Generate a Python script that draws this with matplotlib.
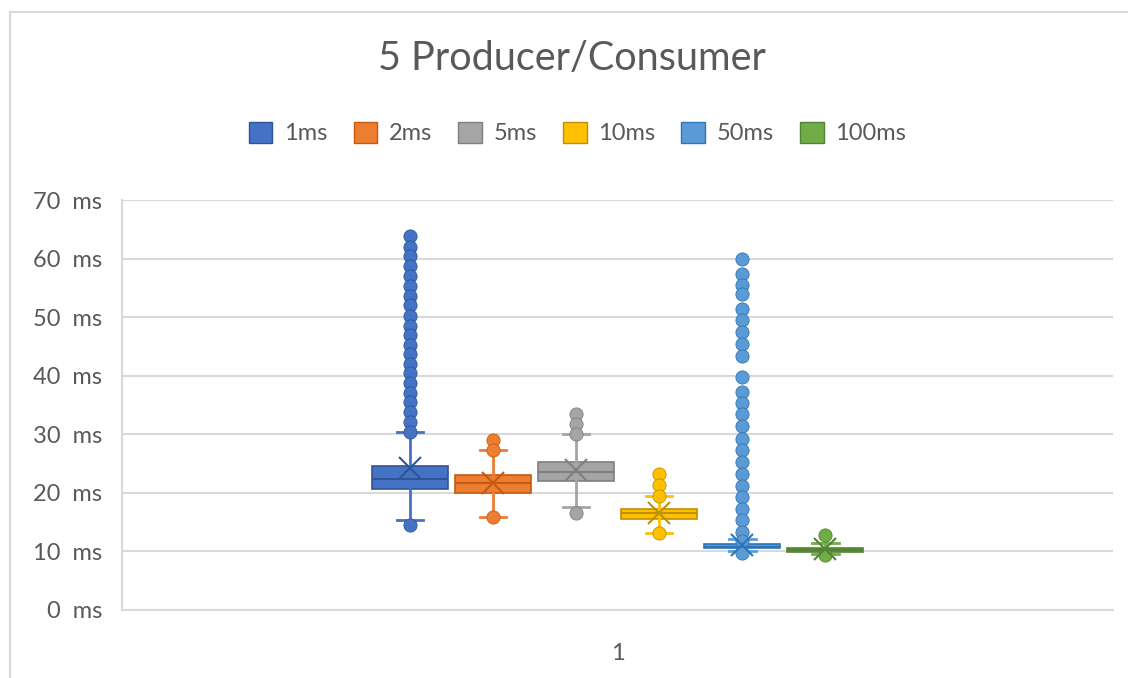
import numpy as np
import matplotlib as mpl
import matplotlib.pyplot as plt
from matplotlib.patches import Patch, Rectangle

mpl.rcParams['font.family'] = ['Lato', 'DejaVu Sans']

# series and box statistics (ms)
labels = ["1ms", "2ms", "5ms", "10ms", "50ms", "100ms"]
colors = ["#4472C4", "#ED7D31", "#A5A5A5", "#FFC000", "#5B9BD5", "#70AD47"]
edges = ["#2F5597", "#C55A11", "#7F7F7F", "#BF9000", "#2E75B6", "#548235"]

q1 = [20.7, 19.9, 22.0, 15.6, 10.5, 9.9]
q3 = [24.6, 23.0, 25.3, 17.2, 11.2, 10.5]
med = [22.4, 21.6, 23.6, 16.5, 10.8, 10.2]
whislo = [15.4, 15.9, 17.5, 13.1, 10.0, 9.6]
whishi = [30.4, 27.4, 30.0, 19.4, 12.2, 11.4]
means = [24.2, 21.6, 23.9, 16.5, 11.1, 10.4]
fliers = [
    [63.9, 62.0, 60.4, 58.7, 57.0, 55.3, 53.6, 52.0, 50.2, 48.5, 46.9, 45.3,
     43.7, 42.0, 40.4, 38.7, 37.1, 35.5, 33.8, 32.1, 30.4, 14.5],
    [29.1, 27.4, 15.9],
    [33.4, 31.7, 30.0, 16.5],
    [23.2, 21.3, 19.4, 13.1],
    [59.9, 57.3, 55.5, 53.9, 51.4, 49.5, 47.5, 45.5, 43.3, 39.8, 37.3, 35.3,
     33.4, 31.4, 29.2, 27.4, 25.3, 23.2, 21.2, 19.3, 17.2, 15.4, 13.4, 11.7, 9.7],
    [12.8, 9.4],
]

fig = plt.figure(figsize=(11.28, 6.78), dpi=100)
ax = fig.add_axes([0.108, 0.1003, 0.879, 0.6047])

# chart area border
fig.patches.append(Rectangle((0.009, -0.05), 1.2, 1.032, transform=fig.transFigure,
                             fill=False, ec="#D9D9D9", lw=1.5))

spacing = 0.0838
width = 0.0767
for i in range(len(labels)):
    pos = 1 + (i - 2.5) * spacing
    st = [dict(med=med[i], q1=q1[i], q3=q3[i], whislo=whislo[i], whishi=whishi[i],
               mean=means[i], fliers=fliers[i])]
    ax.bxp(st, positions=[pos], widths=width, patch_artist=True, showmeans=True,
           boxprops=dict(facecolor=colors[i], edgecolor=edges[i], lw=1.2),
           medianprops=dict(color=edges[i], lw=1.5),
           whiskerprops=dict(color=colors[i], lw=2),
           capprops=dict(color=colors[i], lw=2),
           capwidths=width * 0.35,
           meanprops=dict(marker="x", markeredgecolor=edges[i], markersize=16, mew=1.5),
           flierprops=dict(marker="o", markerfacecolor=colors[i], markeredgecolor=edges[i],
                           markersize=9.5, mew=0.6))

ax.set_xlim(0.5, 1.5)
ax.set_ylim(0, 70)
ax.set_yticks(np.arange(0, 71, 10))
ax.set_yticklabels(["%d  ms" % v for v in range(0, 71, 10)])
ax.set_xticks([1])
ax.set_xticklabels(["1"])
ax.grid(axis="y", color="#D9D9D9", lw=1.5)
ax.set_axisbelow(True)
for s in ["top", "right"]:
    ax.spines[s].set_visible(False)
ax.spines["left"].set_color("#D9D9D9")
ax.spines["bottom"].set_color("#D9D9D9")
ax.spines["left"].set_linewidth(1.5)
ax.spines["bottom"].set_linewidth(1.5)
ax.tick_params(axis="both", length=0, labelsize=17, colors="#595959", pad=14)
ax.tick_params(axis="x", pad=24)

fig.text(0.507, 0.913, "5 Producer/Consumer", ha="center", va="center",
         fontsize=28.5, color="#595959")
handles = [Patch(facecolor=c, edgecolor=e, label=l) for c, e, l in zip(colors, edges, labels)]
fig.legend(handles=handles, loc="center", bbox_to_anchor=(0.512, 0.804), ncol=6,
           frameon=False, fontsize=17, handlelength=1.0, handleheight=1.0,
           handletextpad=0.5, columnspacing=1.1, labelcolor="#595959")

fig.savefig("out.png", dpi=100)
